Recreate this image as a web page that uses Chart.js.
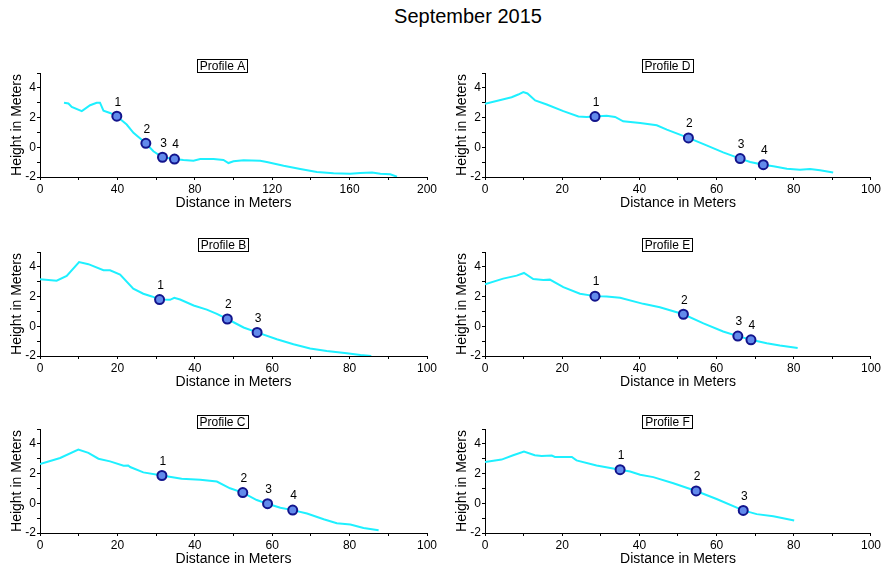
<!DOCTYPE html>
<html>
<head>
<meta charset="utf-8">
<script src="https://cdn.jsdelivr.net/npm/chart.js@4.4.0/dist/chart.umd.min.js"></script>
<style>
  body { margin: 0; background: #fff; width: 883px; height: 566px; position: relative; overflow: hidden; }
  #heading { position: absolute; top: 5px; left: 468px; transform: translateX(-50%);
    font: 20px "Liberation Sans", Arial, sans-serif; color: #000; white-space: nowrap; }
  canvas { position: absolute; }
</style>
</head>
<body>
<div id="heading">September 2015</div>
<canvas id="pA" width="440" height="160" style="left:0;top:52px"></canvas>
<canvas id="pB" width="440" height="160" style="left:0;top:231px"></canvas>
<canvas id="pC" width="440" height="160" style="left:0;top:408px"></canvas>
<canvas id="pD" width="443" height="160" style="left:440px;top:52px"></canvas>
<canvas id="pE" width="443" height="160" style="left:440px;top:231px"></canvas>
<canvas id="pF" width="443" height="160" style="left:440px;top:408px"></canvas>
<script>
// ground profiles: [distance, height]
const profileA = [[12.4,3.0],[14.7,2.95],[16.4,2.72],[21.6,2.43],[25.9,2.83],[29.3,3.0],[31,3.0],[32.8,2.47],
  [36.2,2.31],[39.7,2.09],[44.8,1.53],[48.3,0.97],[54.7,0.27],[58.6,-0.27],[63.3,-0.67],[69.5,-0.79],[74.1,-0.85],
  [79.3,-0.9],[82.8,-0.79],[89.7,-0.79],[94.8,-0.85],[97.4,-1.06],[100,-0.94],[105.2,-0.88],[113.8,-0.9],[117.2,-0.99],
  [125.9,-1.24],[134.5,-1.46],[143.1,-1.66],[151.7,-1.75],[160.3,-1.78],[165.5,-1.73],[171.6,-1.69],[175.9,-1.78],
  [181,-1.82],[184.5,-1.98]];
const profileB = [[0,3.16],[4.3,3.07],[6.9,3.39],[10.1,4.32],[12.5,4.18],[16.4,3.77],[18.1,3.77],[20.7,3.48],
  [24.1,2.53],[26.7,2.19],[28.9,2.01],[30.9,1.8],[33.6,1.78],[34.7,1.92],[36.2,1.8],[39.7,1.4],[43.1,1.12],[45.7,0.83],
  [48.4,0.49],[52.6,-0.08],[56.1,-0.41],[61.2,-0.87],[65.5,-1.21],[69.8,-1.5],[74.1,-1.66],[79.3,-1.82],[82.8,-1.93],
  [85.6,-2.0]];
const profileC = [[0,2.64],[5.2,3.05],[9.9,3.62],[12.5,3.39],[15.1,3.0],[18.1,2.82],[21.6,2.53],[22.8,2.55],[23.3,2.44],
  [26.7,2.08],[31.5,1.87],[36.6,1.65],[41.4,1.58],[45.7,1.46],[49.1,1.01],[52.4,0.72],[56.0,0.22],[58.8,-0.03],
  [62.1,-0.3],[65.3,-0.46],[69.0,-0.69],[73.3,-1.07],[76.7,-1.34],[80.2,-1.43],[83.6,-1.66],[87.5,-1.82]];
const profileD = [[0,2.92],[3.5,3.15],[6.9,3.37],[8.6,3.55],[9.9,3.71],[11,3.62],[13,3.15],[16,2.88],[20.3,2.43],
  [24.2,2.07],[26.3,2.04],[28.5,2.07],[31.5,2.13],[33.7,2.04],[35.8,1.75],[40.2,1.64],[44.5,1.48],[47.1,1.19],
  [52.7,0.63],[57.4,0.13],[61.7,-0.34],[66.1,-0.76],[68.7,-0.99],[72.1,-1.17],[74.7,-1.28],[78.2,-1.44],[81.6,-1.51],
  [84.2,-1.46],[86.8,-1.55],[90.2,-1.69]];
const profileE = [[0,2.82],[4.7,3.21],[8.2,3.41],[10.1,3.59],[12.5,3.18],[15.1,3.12],[16.8,3.14],[20.3,2.64],
  [24.6,2.19],[28.5,2.03],[31.5,2.01],[35.0,1.92],[41.0,1.51],[45.3,1.28],[48.8,1.01],[51.4,0.81],[56.6,0.2],
  [61.7,-0.35],[65.5,-0.66],[68.9,-0.91],[73.0,-1.14],[76.4,-1.3],[81.0,-1.46]];
const profileF = [[0,2.78],[4.3,2.94],[7.3,3.23],[10.1,3.48],[12.9,3.23],[14.7,3.18],[17.3,3.21],[18.1,3.12],
  [22.5,3.12],[23.7,2.89],[28.9,2.55],[35.0,2.26],[37.6,2.14],[40.2,1.92],[43.6,1.76],[48.8,1.35],[54.7,0.83],
  [60.0,0.29],[66.9,-0.48],[70.4,-0.73],[74.7,-0.87],[80.1,-1.16]];

// numbered survey stations on each profile
const stationsA = [[39.7,2.09],[54.7,0.27],[63.3,-0.67],[69.5,-0.79]];
const stationsB = [[30.9,1.8],[48.4,0.49],[56.1,-0.41]];
const stationsC = [[31.5,1.87],[52.4,0.72],[58.8,-0.03],[65.3,-0.46]];
const stationsD = [[28.5,2.07],[52.7,0.63],[66.1,-0.76],[72.1,-1.17]];
const stationsE = [[28.5,2.03],[51.4,0.81],[65.5,-0.66],[68.9,-0.91]];
const stationsF = [[35.0,2.26],[54.7,0.83],[66.9,-0.48]];

const heightTicks = [-2, 0, 2, 4];

Chart.defaults.font.family = '"Liberation Sans", Arial, sans-serif';
Chart.defaults.color = '#000';

const FONT = '"Liberation Sans", Arial, sans-serif';

// boxed profile name above each plot
const boxTitle = {
  id: 'boxTitle',
  afterDraw(chart, args, opts) {
    const ctx = chart.ctx;
    ctx.save();
    ctx.font = '12px ' + FONT;
    const w = Math.round(ctx.measureText(opts.text).width + 5);
    const x = Math.round(opts.cx - w / 2);
    ctx.fillStyle = '#fff';
    ctx.fillRect(x, 7, w, 14);
    ctx.strokeStyle = '#000';
    ctx.lineWidth = 1;
    ctx.strokeRect(x + 0.5, 7.5, w, 13);
    ctx.fillStyle = '#000';
    ctx.textAlign = 'center';
    ctx.textBaseline = 'middle';
    ctx.fillText(opts.text, opts.cx + 0.5, 14.5);
    ctx.restore();
  }
};

// station numbers above the markers
const stationNumbers = {
  id: 'stationNumbers',
  afterDatasetsDraw(chart) {
    const ctx = chart.ctx;
    const meta = chart.getDatasetMeta(0);
    ctx.save();
    ctx.font = '12px ' + FONT;
    ctx.fillStyle = '#000';
    ctx.textAlign = 'center';
    ctx.textBaseline = 'middle';
    meta.data.forEach((pt, i) => {
      ctx.fillText(String(i + 1), pt.x + 1, pt.y - 14);
    });
    ctx.restore();
  }
};

function toXY(list) {
  return list.map(p => ({ x: p[0], y: p[1] }));
}

function makeProfile(id, name, line, stations, xMax, axisW, padRight, titleCx, yTitlePad) {
  const step = xMax / 10;
  new Chart(document.getElementById(id), {
    type: 'line',
    data: {
      datasets: [
        {
          data: toXY(stations),
          showLine: false,
          pointRadius: 4.5,
          pointBackgroundColor: 'rgb(98,138,235)',
          pointBorderColor: 'rgb(18,20,140)',
          pointBorderWidth: 2,
          order: 0
        },
        {
          data: toXY(line),
          borderColor: 'rgb(30,240,255)',
          borderWidth: 2,
          pointRadius: 0,
          tension: 0,
          order: 1
        }
      ]
    },
    options: {
      responsive: false,
      animation: false,
      layout: { padding: { top: 21, right: padRight, left: 0, bottom: 0 } },
      plugins: {
        legend: { display: false },
        tooltip: { enabled: false },
        boxTitle: { text: name, cx: titleCx }
      },
      scales: {
        x: {
          type: 'linear',
          min: 0,
          max: xMax,
          border: { color: '#000', width: 1 },
          grid: { drawOnChartArea: false, tickLength: 3, color: '#000' },
          ticks: {
            stepSize: step,
            autoSkip: false,
            maxRotation: 0,
            padding: 2,
            font: { size: 12 },
            callback: v => (Math.round(v / step) % 2 === 0 ? String(v) : '')
          },
          title: { display: true, text: 'Distance in Meters', font: { size: 14 }, padding: 0 },
          afterFit: s => { s.height = 35; }
        },
        y: {
          min: -2,
          max: 5,
          border: { color: '#000', width: 1 },
          grid: { drawOnChartArea: false, tickLength: 3, color: '#000' },
          ticks: {
            stepSize: 1,
            autoSkip: false,
            padding: 1,
            font: { size: 12 },
            callback: v => (heightTicks.includes(v) ? String(v) : '')
          },
          title: { display: true, text: 'Height in Meters', font: { size: 14 }, padding: { top: yTitlePad, bottom: 0 } },
          afterFit: s => { s.width = axisW; }
        }
      }
    },
    plugins: [boxTitle, stationNumbers]
  });
}

makeProfile('pA', 'Profile A', profileA, stationsA, 200, 40, 13, 222, 8.5);
makeProfile('pB', 'Profile B', profileB, stationsB, 100, 40, 13, 223, 8.5);
makeProfile('pC', 'Profile C', profileC, stationsC, 100, 40, 13, 222, 8.5);
makeProfile('pD', 'Profile D', profileD, stationsD, 100, 45, 12, 227, 13.5);
makeProfile('pE', 'Profile E', profileE, stationsE, 100, 45, 12, 227, 13.5);
makeProfile('pF', 'Profile F', profileF, stationsF, 100, 45, 12, 227, 13.5);
</script>
</body>
</html>
